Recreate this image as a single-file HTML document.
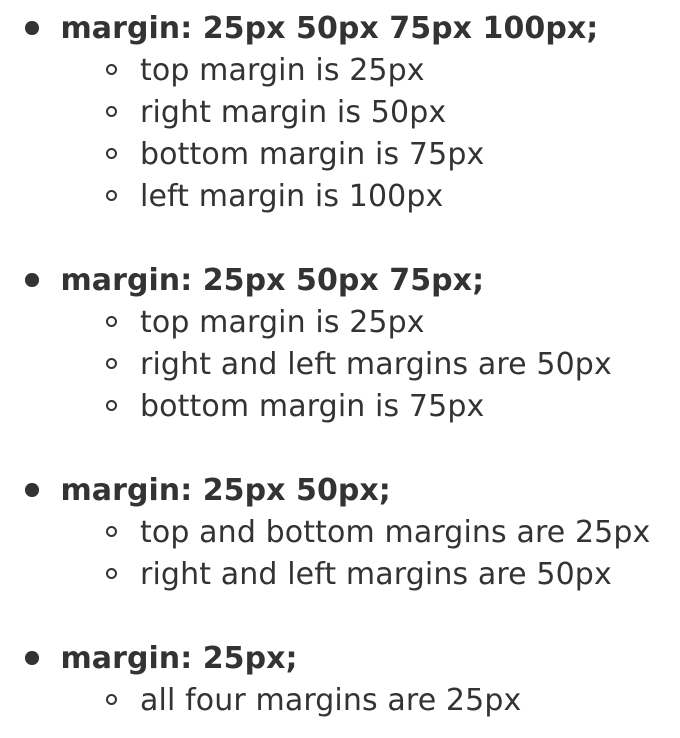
<!DOCTYPE html>
<html>
<head>
<meta charset="utf-8">
<style>
html,body{margin:0;padding:0;background:#fff;width:680px;height:738px;overflow:hidden}
body{position:relative;font-family:"DejaVu Sans","Liberation Sans",sans-serif;color:#333;font-size:30px;letter-spacing:0.12px}
.l{position:absolute;white-space:nowrap;line-height:42px;height:42px;margin-top:1px}
.b{font-weight:bold;left:60.5px;letter-spacing:0.05px}
.s{left:140px}
.d{position:absolute;left:25px;width:13.5px;height:13.5px;margin-top:1px;border-radius:50%;background:#333}
.c{position:absolute;left:105.5px;width:7px;height:7px;margin-top:2px;border-radius:50%;border:2.25px solid #333}
</style>
</head>
<body>
<div class="d" style="top:20px"></div>
<div class="l b" style="top:7px">margin: 25px 50px 75px 100px;</div>
<div class="c" style="top:62px"></div>
<div class="l s" style="top:49px">top margin is 25px</div>
<div class="c" style="top:104px"></div>
<div class="l s" style="top:91px">right margin is 50px</div>
<div class="c" style="top:146px"></div>
<div class="l s" style="top:133px">bottom margin is 75px</div>
<div class="c" style="top:188px"></div>
<div class="l s" style="top:175px">left margin is 100px</div>

<div class="d" style="top:272px"></div>
<div class="l b" style="top:259px">margin: 25px 50px 75px;</div>
<div class="c" style="top:314px"></div>
<div class="l s" style="top:301px">top margin is 25px</div>
<div class="c" style="top:356px"></div>
<div class="l s" style="top:343px">right and left margins are 50px</div>
<div class="c" style="top:398px"></div>
<div class="l s" style="top:385px">bottom margin is 75px</div>

<div class="d" style="top:482px"></div>
<div class="l b" style="top:469px">margin: 25px 50px;</div>
<div class="c" style="top:524px"></div>
<div class="l s" style="top:511px">top and bottom margins are 25px</div>
<div class="c" style="top:566px"></div>
<div class="l s" style="top:553px">right and left margins are 50px</div>

<div class="d" style="top:650px"></div>
<div class="l b" style="top:637px">margin: 25px;</div>
<div class="c" style="top:692px"></div>
<div class="l s" style="top:679px">all four margins are 25px</div>
</body>
</html>
